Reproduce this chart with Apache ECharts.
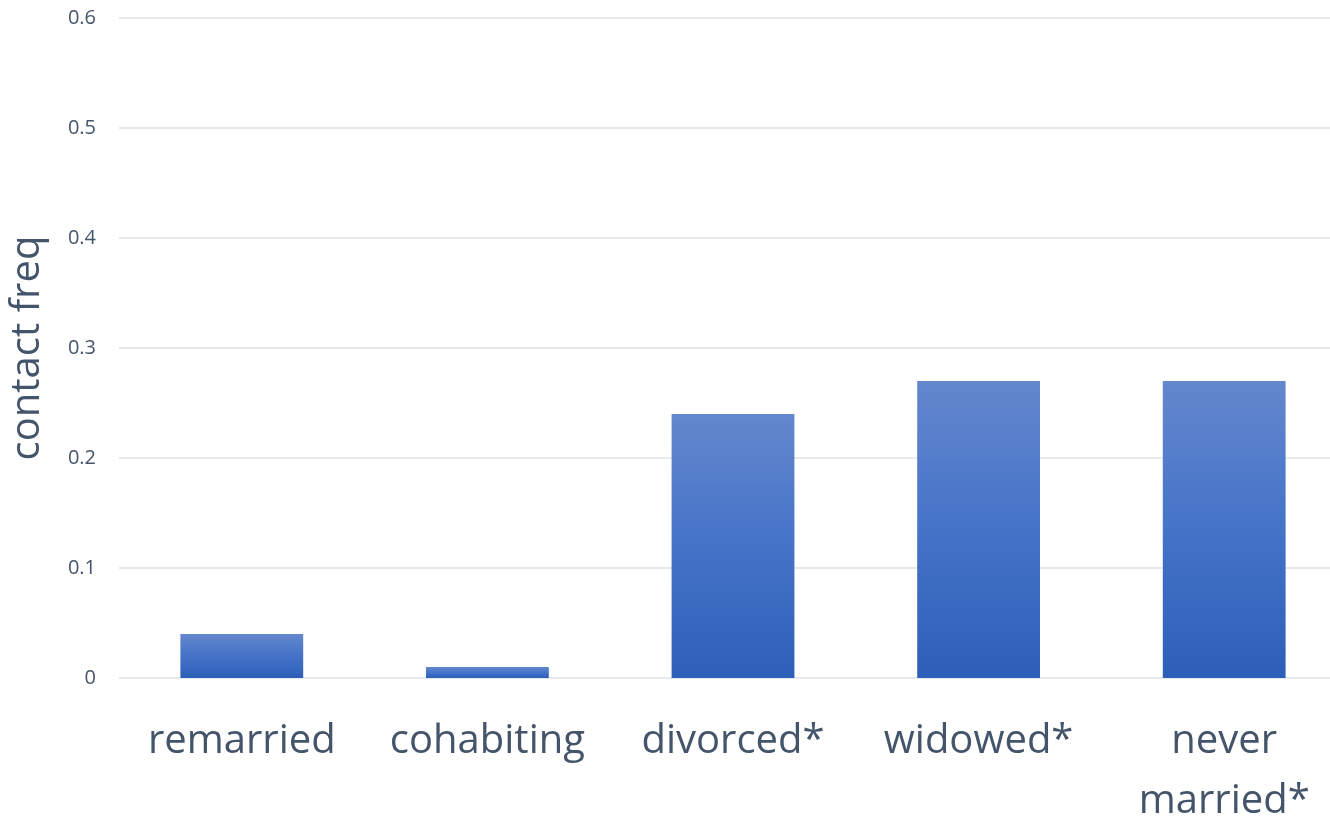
<!DOCTYPE html>
<html>
<head>
<meta charset="utf-8">
<title>contact freq</title>
<script src="https://cdn.jsdelivr.net/npm/echarts@6/dist/echarts.min.js"></script>
<style>
  html, body { margin: 0; padding: 0; background: #ffffff; }
  #chart { width: 1330px; height: 819px; }
</style>
</head>
<body>
<div id="chart"></div>
<script>
// Marital status groups and their contact frequency
const categories = ['remarried', 'cohabiting', 'divorced*', 'widowed*', 'never married*'];
const contactFreq = [0.04, 0.01, 0.24, 0.27, 0.27];
const yTicks = { min: 0, max: 0.6, interval: 0.1 };

const textColor = '#44546A';
const gridColor = '#DFE2E7';
const fontFamily = '"Open Sans", "Noto Sans", sans-serif';

const chart = echarts.init(document.getElementById('chart'), null, { renderer: 'canvas' });

chart.setOption({
  animation: false,
  backgroundColor: '#ffffff',
  grid: {
    left: 119, top: 18, bottom: 141, right: -17,
    outerBoundsMode: 'none',
    containLabel: false
  },
  xAxis: {
    type: 'category',
    data: categories,
    axisLine: { show: false },
    axisTick: { show: false },
    axisLabel: {
      color: textColor,
      fontSize: 40,
      fontFamily: fontFamily,
      lineHeight: 60,
      margin: 34,
      interval: 0,
      formatter: v => v.replace(' ', '\n')
    }
  },
  yAxis: {
    type: 'value',
    min: yTicks.min,
    max: yTicks.max,
    interval: yTicks.interval,
    name: 'contact freq',
    nameLocation: 'middle',
    nameGap: 71,
    nameTextStyle: { color: textColor, fontSize: 40, fontFamily: fontFamily },
    axisLine: { show: false },
    axisTick: { show: false },
    axisLabel: {
      color: textColor,
      fontSize: 20,
      fontFamily: fontFamily,
      margin: 23
    },
    splitLine: { lineStyle: { color: gridColor, width: 1.5 } }
  },
  series: [{
    type: 'bar',
    data: contactFreq,
    barWidth: '50%',
    itemStyle: {
      color: new echarts.graphic.LinearGradient(0, 0, 0, 1, [
        { offset: 0, color: '#6487CD' },
        { offset: 0.5, color: '#4473C8' },
        { offset: 1, color: '#2E5FB8' }
      ])
    }
  }]
});
</script>
</body>
</html>
